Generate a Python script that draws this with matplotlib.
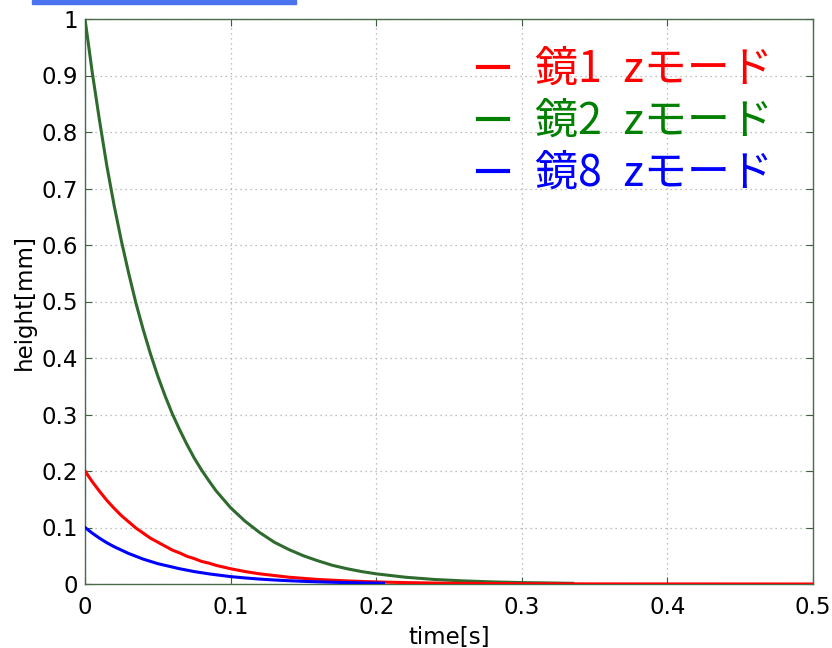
import numpy as np
import matplotlib.pyplot as plt
from matplotlib.lines import Line2D
from matplotlib.patches import Rectangle

# values (height in mm)
t_green = [0.0, 0.005, 0.01, 0.015, 0.02, 0.025, 0.03, 0.035, 0.04, 0.045, 0.05,
           0.055, 0.06, 0.065, 0.07, 0.075, 0.08, 0.085, 0.09, 0.095, 0.10,
           0.11, 0.12, 0.13, 0.14, 0.15, 0.16, 0.17, 0.18, 0.19, 0.20,
           0.22, 0.24, 0.26, 0.28, 0.30, 0.335]
h_green = [1.0, 0.905, 0.82, 0.74, 0.67, 0.607, 0.55, 0.497, 0.45, 0.407, 0.368,
           0.333, 0.301, 0.273, 0.247, 0.223, 0.202, 0.183, 0.165, 0.15, 0.135,
           0.111, 0.091, 0.074, 0.061, 0.05, 0.041, 0.033, 0.027, 0.022, 0.018,
           0.012, 0.008, 0.0055, 0.0037, 0.0025, 0.0012]

t_red = [0.0, 0.005, 0.01, 0.015, 0.02, 0.025, 0.03, 0.035, 0.04, 0.045, 0.05,
         0.055, 0.06, 0.065, 0.07, 0.075, 0.08, 0.085, 0.09, 0.095, 0.10,
         0.11, 0.12, 0.13, 0.14, 0.15, 0.16, 0.17, 0.18, 0.19, 0.20,
         0.22, 0.25, 0.30, 0.35, 0.40, 0.50]
h_red = [0.2, 0.181, 0.164, 0.148, 0.134, 0.121, 0.11, 0.099, 0.09, 0.081, 0.074,
         0.067, 0.06, 0.055, 0.049, 0.045, 0.04, 0.037, 0.033, 0.03, 0.027,
         0.022, 0.018, 0.015, 0.012, 0.01, 0.008, 0.0067, 0.0055, 0.0045, 0.0037,
         0.0025, 0.0013, 0.0005, 0.0002, 0.0001, 0.0]

t_blue = [0.0, 0.005, 0.01, 0.015, 0.02, 0.025, 0.03, 0.035, 0.04, 0.045, 0.05,
          0.055, 0.06, 0.065, 0.07, 0.075, 0.08, 0.085, 0.09, 0.095, 0.10,
          0.11, 0.12, 0.13, 0.14, 0.15, 0.16, 0.17, 0.18, 0.19, 0.205]
h_blue = [0.1, 0.09, 0.081, 0.073, 0.066, 0.06, 0.054, 0.049, 0.044, 0.04, 0.036,
          0.033, 0.03, 0.027, 0.0245, 0.022, 0.02, 0.018, 0.0163, 0.0147, 0.0131,
          0.0107, 0.0087, 0.0071, 0.0058, 0.0047, 0.0038, 0.0031, 0.0025, 0.002, 0.0015]

labels = ['鏡1\u2002zモード', '鏡2\u2002zモード', '鏡8\u2002zモード']
line_colors = ['#ff0000', '#2f6b2f', '#0000ff']
text_colors = ['#ff0000', '#008000', '#0000ff']

xticks = [0, 0.1, 0.2, 0.3, 0.4, 0.5]
yticks = [0, 0.1, 0.2, 0.3, 0.4, 0.5, 0.6, 0.7, 0.8, 0.9, 1]

plt.rcParams['font.family'] = ['DejaVu Sans']

fig = plt.figure(figsize=(8.32, 6.48), dpi=100)
ax = fig.add_axes([85 / 832, 1 - 584 / 648, 728 / 832, 565 / 648])

ax.plot(t_green, h_green, color=line_colors[1], lw=2.2, zorder=3)
ax.plot(t_red, h_red, color=line_colors[0], lw=2.2, zorder=4)
ax.plot(t_blue, h_blue, color=line_colors[2], lw=2.2, zorder=5)

ax.set_xlim(0, 0.5)
ax.set_ylim(0, 1)
ax.set_xticks(xticks)
ax.set_yticks(yticks)
ax.set_xticklabels(['0', '0.1', '0.2', '0.3', '0.4', '0.5'])
ax.set_yticklabels(['0', '0.1', '0.2', '0.3', '0.4', '0.5', '0.6', '0.7', '0.8', '0.9', '1'])
ax.tick_params(direction='in', length=5, color='#3e5e3e', labelsize=16.5,
               top=True, right=True)
ax.tick_params(axis='x', pad=9)
ax.tick_params(axis='y', pad=5)
ax.grid(True, color='#aaaaaa', linestyle=(0, (1, 3)), linewidth=0.9)
for s in ax.spines.values():
    s.set_color('#4a6a4a')
    s.set_linewidth(1.0)

ax.set_xlabel('time[s]', fontsize=16.5, labelpad=5)
ax.set_ylabel('height[mm]', fontsize=16.5, labelpad=4)

handles = [Line2D([], [], color=c, lw=3) for c in text_colors]
leg = fig.legend(handles, labels, loc='upper left', bbox_to_anchor=(439 / 832, 1 - 9 / 648),
                 frameon=False, prop={'family': ['Noto Sans CJK JP', 'DejaVu Sans'], 'size': 31},
                 handlelength=0.7, handletextpad=0.63, labelspacing=0.19, labelcolor=text_colors)

# stray blue bar cut off at the top edge
fig.patches.append(Rectangle((32 / 832, 1 - 4 / 648), 264 / 832, 4 / 648,
                             transform=fig.transFigure, color='#4a73f0'))

fig.savefig('out.png', dpi=100)
